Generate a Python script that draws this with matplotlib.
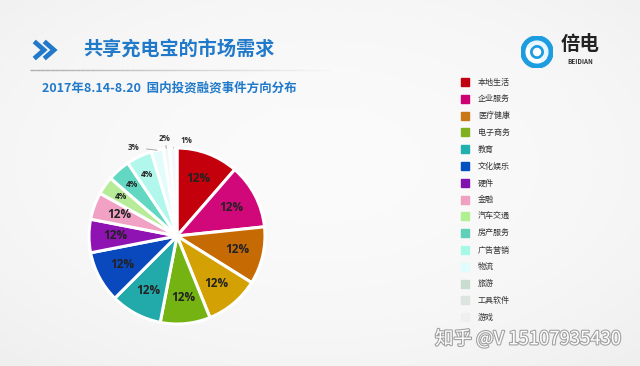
import numpy as np
from matplotlib import pyplot as plt
from matplotlib.lines import Line2D
from matplotlib.patches import Rectangle, Circle, Wedge
from matplotlib.collections import LineCollection
import matplotlib.patheffects as pe

plt.rcParams['font.family'] = ['Noto Sans CJK SC', 'DejaVu Sans']

# 饼图数据（按扇区大小估算）
shares = [41, 43, 38, 36, 33, 34, 34, 22, 18, 12, 15, 17, 8, 4, 5]
pct_labels = ['12%', '12%', '12%', '12%', '12%', '12%', '12%', '12%', '12%',
              '4%', '4%', '4%', '3%', '2%', '1%']
pie_colors = ['#c3000c', '#d1087a', '#c66a04', '#d4a104', '#74b312', '#22a9aa',
              '#0a48bd', '#8f12b3', '#f1a2c4', '#b6eb98', '#62d8c2', '#b2f7ec',
              '#e2fbfb', '#eef8f8', '#f4f8fa']

# 图例
legend_names = ['本地生活', '企业服务', '医疗健康', '电子商务', '教育', '文化娱乐', '硬件', '金融',
                '汽车交通', '房产服务', '广告营销', '物流', '旅游', '工具软件', '游戏']
legend_colors = ['#c00010', '#cc0070', '#c87814', '#80b020', '#20b0b0', '#0050c0',
                 '#8010b0', '#f0a0c0', '#b0f090', '#60d0b8', '#a8f8e8', '#e0fcfc',
                 '#c8dcd0', '#dce4e0', '#eef0f0']

fig = plt.figure(figsize=(6.4, 3.66), dpi=100)
fig.patch.set_facecolor('#efefef')

# 背景渐变
bg = fig.add_axes([0, 0, 1, 1])
yy, xx = np.mgrid[0:1:200j, 0:1:350j]
grad = 1 - 0.18 * ((xx - 0.5) ** 2 + (yy - 0.45) ** 2)
bg.imshow(grad, cmap='Greys_r', vmin=0.0, vmax=1.04, aspect='auto', extent=[0, 1, 0, 1])
bg.set_xlim(0, 1)
bg.set_ylim(0, 1)
bg.axis('off')

def fx(px):
    return px / 640

def fy(py):
    return 1 - py / 366

# 标题
blue = '#2079c9'
for x0 in (36, 46):
    fig.add_artist(Line2D([fx(x0), fx(x0 + 8), fx(x0)], [fy(43), fy(50), fy(57)],
                          color=blue, lw=3.4, solid_joinstyle='miter'))
fig.text(fx(83), fy(50), '共享充电宝的市场需求', fontsize=13.8, fontweight='bold',
         color=blue, va='center', ha='left')
xs = np.linspace(fx(30), fx(330), 61)
segs = [[(xs[i], fy(70)), (xs[i + 1], fy(70))] for i in range(60)]
alphas = np.clip(1 - np.arange(60) / 62, 0, 1)
seg_colors = [(0.68, 0.68, 0.68, a) for a in alphas]
fig.add_artist(LineCollection(segs, colors=seg_colors, linewidths=1,
                              transform=fig.transFigure))
fig.text(fx(42), fy(88), '2017年8.14-8.20  国内投资融资事件方向分布', fontsize=9.0,
         fontweight='bold', color=blue, va='center', ha='left')

# Logo
lg = fig.add_axes([fx(521), fy(68), 32 / 640, 32 / 366])
lg.set_xlim(-1, 1)
lg.set_ylim(-1, 1)
lg.set_aspect('equal')
lg.axis('off')
lg.add_patch(Circle((0, 0), 1.0, color='#1e9ce0'))
lg.add_patch(Wedge((0, 0), 0.68, 120, 330, width=0.2, color='white'))
lg.add_patch(Wedge((0, 0), 0.68, 300, 150, width=0.2, color='#e8f6fd'))
lg.add_patch(Circle((0, 0), 0.22, color='white'))
fig.text(fx(580), fy(45), '倍电', fontsize=14, fontweight='bold', color='#222222',
         ha='center', va='center')
fig.text(fx(580), fy(61), 'BEIDIAN', fontsize=4.5, fontweight='bold', color='#333333',
         ha='center', va='center')

# 饼图
ax = fig.add_axes([fx(177 - 88), fy(236 + 88), 176 / 640, 176 / 366])
wedges, _ = ax.pie(shares, colors=pie_colors, startangle=90, counterclock=False,
                   wedgeprops=dict(edgecolor='white', linewidth=2.2))
ax.set_xlim(-1, 1)
ax.set_ylim(-1, 1)
ax.set_aspect('equal')
ax.axis('off')

lab_font = ['Open Sans', 'DejaVu Sans']
for i, w in enumerate(wedges):
    mid = np.deg2rad((w.theta1 + w.theta2) / 2)
    if i < 9:
        r = 0.7
        ax.text(r * np.cos(mid), r * np.sin(mid), pct_labels[i], fontsize=8.5,
                fontweight='bold', color='#222222', ha='center', va='center',
                family=lab_font)
    elif i < 12:
        r = 0.78
        ax.text(r * np.cos(mid), r * np.sin(mid), pct_labels[i], fontsize=6,
                fontweight='bold', color='#222222', ha='center', va='center',
                family=lab_font)
    else:
        shift, rr = {12: (13, 1.12), 13: (0, 1.12), 14: (-8, 1.09)}[i]
        ang = mid + np.deg2rad(shift)
        tx, ty = rr * np.cos(ang), rr * np.sin(ang)
        ax.annotate(pct_labels[i], xy=(np.cos(mid), np.sin(mid)), xytext=(tx, ty),
                    fontsize=5.8, fontweight='bold', color='#333333', ha='center',
                    va='center', family=lab_font, annotation_clip=False,
                    arrowprops=dict(arrowstyle='-', color='#999999', lw=0.6,
                                    shrinkA=3, shrinkB=0))

# 图例
for i, (name, c) in enumerate(zip(legend_names, legend_colors)):
    y = 82 + i * 16.8
    fig.add_artist(Rectangle((fx(461), fy(y + 4)), 7.5 / 640, 8 / 366, color=c,
                             transform=fig.transFigure))
    fig.text(fx(478), fy(y), name, fontsize=5.8, color='#333333', va='center', ha='left')

# 水印
fig.text(fx(435), fy(339), '知乎 @V 15107935430', fontsize=13.3, color='white',
         ha='left', va='center',
         path_effects=[pe.withStroke(linewidth=1.6, foreground='#a0a0a0')])

fig.savefig('out.png', dpi=100, facecolor=fig.get_facecolor())
